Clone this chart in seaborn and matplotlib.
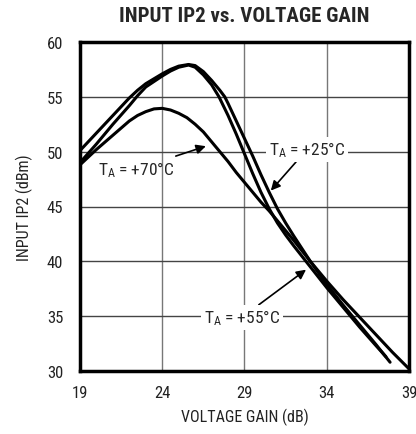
import matplotlib
matplotlib.use("Agg")
import matplotlib.pyplot as plt
import seaborn as sns
import pandas as pd
import logging
logging.getLogger("matplotlib.font_manager").setLevel(logging.ERROR)

# ---- data ----
gain_25 = [19, 20, 21, 22, 22.5, 23, 24, 24.5, 25, 25.6, 26, 26.5, 27, 27.5, 27.8, 28, 28.5, 29, 29.5,
           30, 30.5, 31, 31.5, 32, 33, 34, 35, 36, 37, 37.85]
ip2_25 = [50.1, 51.7, 53.3, 54.9, 55.6, 56.2, 57.1, 57.5, 57.8, 57.95, 57.85, 57.3, 56.5, 55.6, 55.0, 54.4, 52.8, 51.2, 49.6,
          47.9, 46.3, 44.8, 43.5, 42.3, 40.0, 37.9, 36.0, 34.2, 32.4, 30.8]

gain_55 = [19, 20, 21, 22, 22.5, 23, 24, 24.5, 25, 25.6, 26, 26.5, 27, 27.45, 28, 28.5, 29, 29.5,
           30, 30.5, 31, 31.5, 32, 33, 34, 35, 36, 37, 37.6]
ip2_55 = [49.0, 50.7, 52.5, 54.2, 55.1, 55.9, 56.9, 57.35, 57.7, 57.9, 57.7, 57.0, 56.1, 55.0, 53.3, 51.6, 49.8, 48.0,
          46.3, 44.8, 43.5, 42.4, 41.4, 39.5, 37.6, 35.8, 34.0, 32.3, 31.3]

gain_70 = [19, 20, 21, 22, 22.5, 23, 23.5, 24, 24.5, 25, 25.5, 26, 26.5, 27, 27.5, 28, 28.5, 29, 29.5,
           30, 30.5, 31, 32, 33, 34, 35, 36, 37, 38, 39]
ip2_70 = [48.8, 50.2, 51.5, 52.8, 53.3, 53.65, 53.9, 53.95, 53.8, 53.5, 53.1, 52.5, 51.8, 50.9, 50.0, 49.1, 48.1, 47.2, 46.3,
          45.4, 44.6, 43.7, 41.9, 40.0, 38.2, 36.5, 34.9, 33.3, 31.7, 30.2]

x_ticks = [19, 24, 29, 34, 39]
y_ticks = [30, 35, 40, 45, 50, 55, 60]

title = "INPUT IP2 vs. VOLTAGE GAIN"
xlabel = "VOLTAGE GAIN (dB)"
ylabel = "INPUT IP2 (dBm)"

sns.set_theme(style="white")
FONT = ["Roboto Condensed", "Archivo Narrow", "Sofia Sans Condensed", "DejaVu Sans"]
plt.rcParams["font.family"] = FONT
plt.rcParams["mathtext.default"] = "regular"

fig = plt.figure(figsize=(4.16, 4.35), dpi=100)
ax = fig.add_axes([80 / 416, 1 - 372 / 435, 329 / 416, 329 / 435])

for gx, gy in [(gain_25, ip2_25), (gain_55, ip2_55), (gain_70, ip2_70)]:
    df = pd.DataFrame({"gain": gx, "ip2": gy})
    sns.lineplot(data=df, x="gain", y="ip2", ax=ax, color="black",
                 linewidth=2.2, sort=False, zorder=3)

ax.set_xlim(19, 39)
ax.set_ylim(30, 60)
ax.set_xticks(x_ticks)
ax.set_yticks(y_ticks)
ax.tick_params(axis="both", length=0, labelsize=12, colors="#222222")
ax.tick_params(axis="x", pad=10)
ax.tick_params(axis="y", pad=12)
ax.grid(True, axis="y", color="#444444", linewidth=1.0)
ax.grid(True, axis="x", color="#777777", linewidth=1.0)
for s in ax.spines.values():
    s.set_color("black")
    s.set_linewidth(2.5)
    s.set_zorder(5)

ax.set_xlabel(xlabel, fontsize=11.5, color="#222222", labelpad=6)
ax.set_ylabel(ylabel, fontsize=11.5, color="#222222", labelpad=10)
fig.text(244 / 416, 1 - 17 / 435, title, ha="center", va="center",
         fontsize=15, fontweight="heavy", family=FONT)

arrow = dict(arrowstyle="-|>", color="black", lw=1.2, mutation_scale=14)
bbox = dict(boxstyle="square,pad=0.15", fc="white", ec="none")
ax.annotate("T$_{A}$ = +70°C", xy=(26.65, 50.5), xytext=(22.4, 48.4),
            fontsize=12.5, ha="center", va="center",
            arrowprops=dict(arrow, shrinkA=30, shrinkB=0), zorder=6)
ax.annotate("T$_{A}$ = +25°C", xy=(30.6, 46.45), xytext=(32.8, 50.2),
            fontsize=12.5, ha="center", va="center", bbox=bbox,
            arrowprops=dict(arrow, shrinkA=0, shrinkB=0), zorder=6)
ax.annotate("T$_{A}$ = +55°C", xy=(32.74, 39.24), xytext=(28.85, 34.9),
            fontsize=12.5, ha="center", va="center", bbox=bbox,
            arrowprops=dict(arrow, shrinkA=0, shrinkB=0), zorder=6)

fig.savefig("out.png", dpi=100)
